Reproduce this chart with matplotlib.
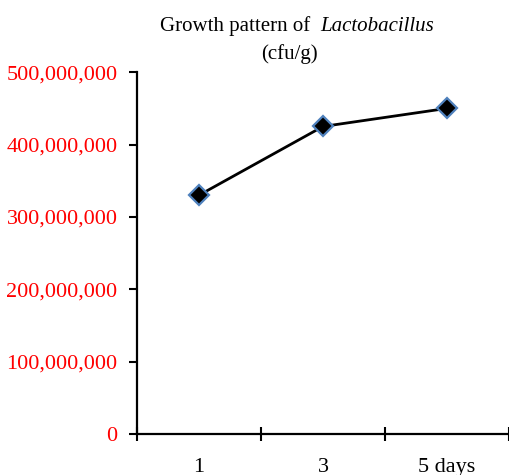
import matplotlib
matplotlib.use("Agg")
import matplotlib.pyplot as plt
from matplotlib.ticker import FuncFormatter, FixedLocator

# --------------------------------------------------
# data
# --------------------------------------------------

days = ["1", "3", "5 days"]
cfu = [330000000, 425000000, 450000000]
y_ticks = [0, 100000000, 200000000, 300000000, 400000000, 500000000]

# --------------------------------------------------
# plot
# --------------------------------------------------

plt.rcParams["font.family"] = ["Liberation Serif", "DejaVu Serif"]

fig = plt.figure(figsize=(5.1, 4.75), dpi=100)
ax = fig.add_axes([0.2686, 0.0863, 0.7294, 0.7617])

pos = list(range(len(days)))
ax.plot(pos, cfu, color="black", linewidth=2, marker="D", markersize=10,
        markerfacecolor="black", markeredgecolor="#4f81bd", markeredgewidth=1.6,
        zorder=3)

ax.set_xlim(-0.5, len(days) - 0.5)
ax.set_ylim(0, 500000000)

ax.set_yticks(y_ticks)
ax.yaxis.set_major_formatter(FuncFormatter(lambda v, p: f"{int(v):,}"))
ax.tick_params(axis="y", direction="out", length=6, width=1.5,
               labelsize=16, labelcolor="red", pad=8)

# categories sit between the tick marks (Excel style)
ax.xaxis.set_major_locator(FixedLocator([p - 0.5 for p in pos] + [len(days) - 0.5]))
ax.xaxis.set_major_formatter(FuncFormatter(lambda v, p: ""))
ax.xaxis.set_minor_locator(FixedLocator(pos))
ax.set_xticklabels(days, minor=True)
ax.tick_params(axis="x", which="major", direction="inout", length=10, width=1.5)
ax.tick_params(axis="x", which="minor", length=0, labelsize=16, pad=17.5)

for side in ["top", "right"]:
    ax.spines[side].set_visible(False)
for side in ["left", "bottom"]:
    ax.spines[side].set_linewidth(1.6)

# title: plain part + italic genus name
fig.text(310 / 510, 0.9347, "Growth pattern of", ha="right", va="baseline", fontsize=15)
fig.text(320 / 510, 0.9347, "Lactobacillus", ha="left", va="baseline", fontsize=15,
         fontstyle="italic")
fig.text(289 / 510, 0.8758, "(cfu/g)", ha="center", va="baseline", fontsize=15)

fig.savefig("out.png", dpi=100)
